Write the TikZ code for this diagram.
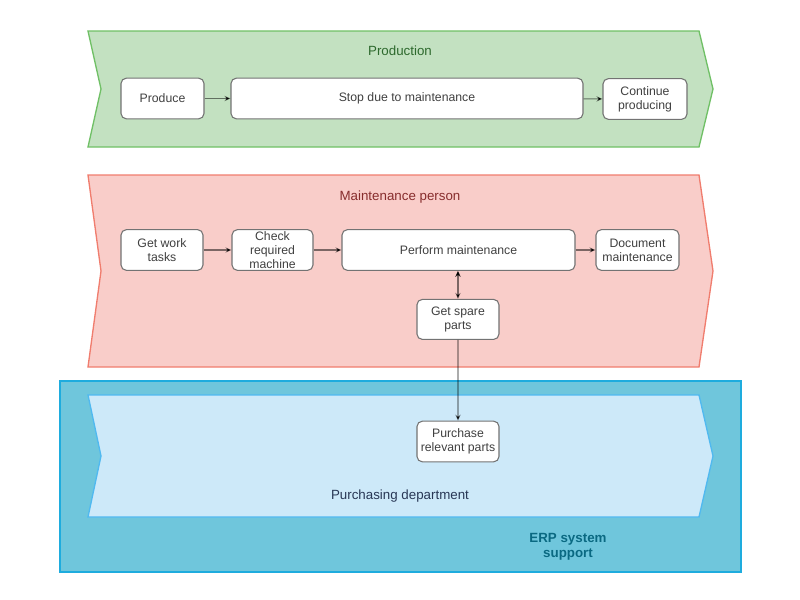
\documentclass[tikz,border=0pt]{standalone}
\usepackage{fontspec}
\setmainfont{Liberation Sans}
\usepackage{xcolor}
\usepackage{tikz}
\usetikzlibrary{arrows.meta,positioning}

\definecolor{prodfill}{RGB}{195,225,193}
\definecolor{proddraw}{RGB}{112,192,102}
\definecolor{prodtext}{RGB}{45,105,45}
\definecolor{maintfill}{RGB}{249,205,201}
\definecolor{maintdraw}{RGB}{240,125,110}
\definecolor{mainttext}{RGB}{135,45,45}
\definecolor{erpfill}{RGB}{111,198,220}
\definecolor{erpdraw}{RGB}{30,172,222}
\definecolor{erptext}{RGB}{10,105,130}
\definecolor{purchfill}{RGB}{205,233,249}
\definecolor{purchdraw}{RGB}{80,185,240}
\definecolor{purchtext}{RGB}{40,55,85}
\definecolor{boxtext}{RGB}{64,64,64}

\begin{document}
\begin{tikzpicture}[x=0.75pt,y=-0.75pt,>={Stealth[length=4.5pt,width=4pt]},
  task/.style={draw=black!55,fill=white,rounded corners=4pt,line width=0.8pt,
    align=center,text=boxtext,font=\fontsize{9.2}{10.5}\selectfont,
    minimum height=30.5pt,inner sep=1pt},
  lanetitle/.style={font=\fontsize{10}{12}\selectfont},
  flow/.style={->,draw=black,draw opacity=0.5,line width=0.8pt}]
  \useasboundingbox (0,0) rectangle (800,600);

  % lanes
  \draw[erpdraw,fill=erpfill,line width=1pt] (60,381) rectangle (741,572);
  \draw[proddraw,fill=prodfill,line width=1pt] (88,31) -- (699,31) -- (713,89) -- (699,147) -- (88,147) -- (101,89) -- cycle;
  \draw[maintdraw,fill=maintfill,line width=1pt] (88,175) -- (699,175) -- (713,271) -- (699,367) -- (88,367) -- (101,271) -- cycle;
  \draw[purchdraw,fill=purchfill,line width=1pt] (88,395) -- (699,395) -- (713,456) -- (699,517) -- (88,517) -- (101,456) -- cycle;

  \node[lanetitle,text=prodtext]  (production) at (400,51)  {Production};
  \node[lanetitle,text=mainttext] (maintperson) at (400,197) {Maintenance person};
  \node[lanetitle,text=purchtext] (purchasing) at (400,496) {Purchasing department};
  \node[lanetitle,text=erptext,align=center,font=\fontsize{10}{11}\selectfont\bfseries] (erp) at (568,547) {ERP system\\support};

  % production
  \node[task,minimum width=62.25pt] (produce)  at (162.5,98.5) {Produce};
  \node[task,minimum width=264pt]   (stop)     at (407,98.5)   {Stop due to maintenance};
  \node[task,minimum width=63pt]    (continue) at (645,99)     {Continue\\producing};

  % maintenance person
  \node[task,minimum width=61.5pt]   (worktasks) at (162,250)   {Get work\\tasks};
  \node[task,minimum width=60.75pt]  (check)     at (272.5,250) {Check\\required\\machine};
  \node[task,minimum width=174.75pt] (perform)   at (458.5,250) {Perform maintenance};
  \node[task,minimum width=62.25pt]  (document)  at (637.5,250) {Document\\maintenance};
  \node[task,minimum width=61.5pt,minimum height=30pt] (spare) [below=21pt of perform.south,anchor=north,xshift=-0.4pt] {Get spare\\parts};

  % purchasing
  \node[task,minimum width=61.5pt] (purchase) at (458,441.5) {Purchase\\relevant parts};

  \path[flow] (produce) edge (stop)
        (stop) edge (continue)
        (worktasks) edge (check)
        (check) edge (perform)
        (perform) edge (document)
        (perform.south -| spare.north) edge[<->] (spare.north)
        (spare) edge (purchase);
\end{tikzpicture}
\end{document}
